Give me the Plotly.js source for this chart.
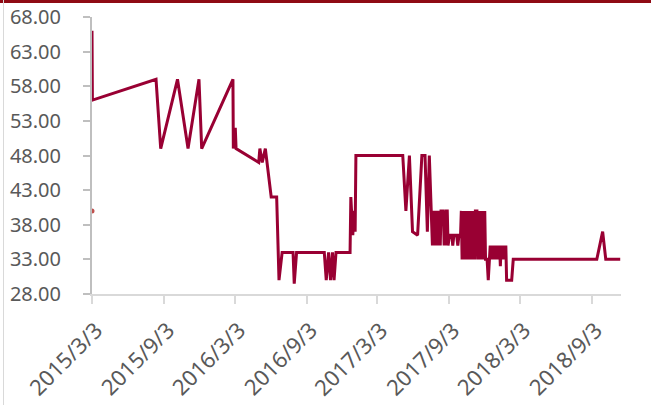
<!DOCTYPE html>
<html>
<head>
<meta charset="utf-8">
<script src="https://cdn.plot.ly/plotly-3.0.1.min.js"></script>
<style>
html,body{margin:0;padding:0;background:#fff;}
#wrap{position:relative;width:651px;height:405px;overflow:hidden;}
#chart{position:absolute;left:0;top:0;width:651px;height:405px;}
#topbar{position:absolute;left:0;top:0;width:651px;height:3px;background:#8f0a14;z-index:5;}
#leftbar{position:absolute;left:3px;top:0;width:1px;height:405px;background:#d9d9d9;z-index:5;}
</style>
</head>
<body>
<div id="wrap">
<div id="chart"></div>
<div id="topbar"></div>
<div id="leftbar"></div>
</div>
<script>
// Price series (date, value)
const dates = [
 '2015-03-03','2015-03-04','2015-08-14','2015-08-26','2015-10-08','2015-11-04','2015-12-02','2015-12-09',
 '2016-02-27','2016-02-28','2016-03-04','2016-03-06','2016-05-03','2016-05-06','2016-05-12','2016-05-20',
 '2016-06-04','2016-06-18','2016-06-24','2016-07-02','2016-07-30','2016-08-02','2016-08-08',
 '2016-10-18','2016-10-23','2016-10-29','2016-11-03','2016-11-08','2016-11-12','2016-11-17',
 '2016-12-23','2016-12-25','2016-12-30','2017-01-02','2017-01-05','2017-01-07',
 '2017-05-07','2017-05-15','2017-05-24','2017-06-01','2017-06-14','2017-06-25','2017-07-03','2017-07-09','2017-07-14','2017-07-20',
 '2017-07-22','2017-07-24','2017-07-26','2017-07-28','2017-07-30','2017-08-01','2017-08-03','2017-08-05','2017-08-07','2017-08-09',
 '2017-08-11','2017-08-13','2017-08-15','2017-08-19','2017-08-21','2017-08-23','2017-08-25','2017-08-27','2017-08-29',
 '2017-08-31','2017-09-04','2017-09-10','2017-09-12','2017-09-15','2017-09-22','2017-09-25','2017-09-28','2017-10-02',
 '2017-10-04','2017-10-06','2017-10-08','2017-10-10','2017-10-12','2017-10-14','2017-10-16','2017-10-18','2017-10-20','2017-10-22',
 '2017-10-24','2017-10-26','2017-10-28','2017-10-30','2017-11-01','2017-11-03','2017-11-05','2017-11-07','2017-11-09',
 '2017-11-13','2017-11-15','2017-11-17','2017-11-19','2017-11-21','2017-11-23','2017-11-25','2017-11-27','2017-11-29',
 '2017-12-01','2017-12-03','2017-12-05','2017-12-09','2017-12-12','2017-12-15',
 '2017-12-17','2017-12-19','2017-12-21','2017-12-23','2017-12-25','2017-12-27','2017-12-29','2017-12-31',
 '2018-01-02','2018-01-04','2018-01-06','2018-01-08','2018-01-10','2018-01-12','2018-01-14','2018-01-16',
 '2018-01-18','2018-01-20','2018-01-22','2018-01-24','2018-01-26','2018-01-28',
 '2018-02-10','2018-02-14','2018-09-16','2018-10-01','2018-10-09','2018-11-15'
];
const values = [
 66,56,59,49,59,49,59,49,
 59,49,52,49,47,49,47,49,
 42,42,30,34,34,29.5,34,
 34,30,34,30,34,30,34,
 34,42,36.5,40,37,48,
 48,40,48,37,36.5,48,48,37,48,40,
 35,40,35,40,35,40,35,40,35,40,
 35,40,40,40,35,40,35,40,40,
 35,36.5,36.5,35,36.5,36.5,35,36.5,36.5,
 40,33,40,33,40,33,40,33,40,33,
 40,33,40,33,40,33,40,33,40,
 40,33,40,33,40,33,40,33,40,
 33,40,33,33,30,33,
 35,33,35,33,35,33,35,33,
 35,33,35,33,35,32,35,33,
 35,33,35,33,35,30,
 30,33,33,37,33,33
];
// Single marker point
const dotDates = ['2015-03-03'];
const dotValues = [40];
// Axis ticks
const xTickVals = ['2015-03-03','2015-09-03','2016-03-03','2016-09-03','2017-03-03','2017-09-03','2018-03-03','2018-09-03'];
const xTickText = ['2015/3/3','2015/9/3','2016/3/3','2016/9/3','2017/3/3','2017/9/3','2018/3/3','2018/9/3'];
const yMin = 28, yMax = 68, yStep = 5;

const yfont = {family:'"Noto Sans", "Open Sans", sans-serif', size:20, color:'#595959'};
const xfont = {family:'"Noto Sans", "Open Sans", sans-serif', size:22, color:'#595959'};
const traces = [
 {x:dates, y:values, type:'scatter', mode:'lines', line:{color:'#990033', width:3}, hoverinfo:'skip'},
 {x:dotDates, y:dotValues, type:'scatter', mode:'markers', marker:{color:'#c0504d', size:5}, hoverinfo:'skip'}
];
const annotations = xTickVals.map((v, i) => ({
 x:v, xref:'x', y:0, yref:'paper', text:xTickText[i], showarrow:false,
 textangle:-45, xanchor:'right', yanchor:'top', xshift:19, yshift:-18, font:xfont
}));
const layout = {
 width:651, height:405,
 margin:{l:92, r:30, t:17, b:111},
 paper_bgcolor:'#fff', plot_bgcolor:'#fff',
 showlegend:false,
 font:yfont,
 annotations:annotations,
 xaxis:{type:'date', range:['2015-03-03','2018-11-17'], tickvals:xTickVals, showticklabels:false,
   ticks:'outside', ticklen:8, tickcolor:'#d9d9d9', tickwidth:2,
   showline:true, linecolor:'#d9d9d9', linewidth:2, showgrid:false, zeroline:false},
 yaxis:{range:[yMin,yMax], dtick:yStep, tick0:yMin, tickformat:'.2f', ticks:'outside', ticklen:7,
   tickcolor:'#bfbfbf', tickwidth:2, showline:true, linecolor:'#bfbfbf', linewidth:2,
   showgrid:false, zeroline:false, tickfont:yfont, ticklabelstandoff:18}
};
Plotly.newPlot('chart', traces, layout, {staticPlot:true, displayModeBar:false});
</script>
</body>
</html>
